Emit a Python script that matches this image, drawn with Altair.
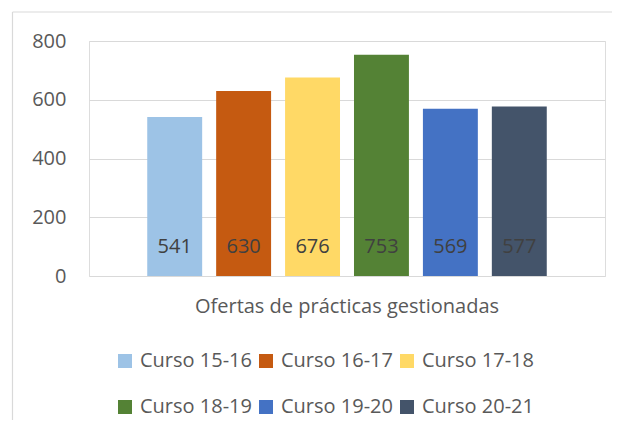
import altair as alt
import pandas as pd

categoria = ["Ofertas de prácticas gestionadas"]
cursos = ["Curso 15-16", "Curso 16-17", "Curso 17-18", "Curso 18-19", "Curso 19-20", "Curso 20-21"]
valores = [541, 630, 676, 753, 569, 577]
colores = ["#9DC3E6", "#C55A11", "#FFD966", "#548235", "#4472C4", "#44546A"]
y_ticks = [0, 200, 400, 600, 800]

df = pd.DataFrame({"cat": categoria * len(cursos), "curso": cursos, "valor": valores})

FONT = "Open Sans"
GREY = "#595959"

x_enc = alt.X("cat:N", scale=alt.Scale(paddingInner=0, paddingOuter=0),
              axis=alt.Axis(title=None, labelFontSize=20, labelColor=GREY, labelFont=FONT,
                            ticks=False, tickSize=0, domain=False, labelPadding=20, labelAngle=0,
                            labelLimit=0))
xo_enc = alt.XOffset("curso:N", sort=cursos, scale=alt.Scale(paddingInner=0.203, paddingOuter=0.845))

base = alt.Chart(df)

frame_src = alt.Data(values=[{}])
frame_top = alt.Chart(frame_src).mark_rule(color="#d9d9d9", strokeWidth=1.2).encode(
    x=alt.value(-76.5), x2=alt.value(523), y=alt.value(-29))
frame_left = alt.Chart(frame_src).mark_rule(color="#d9d9d9", strokeWidth=1.2).encode(
    x=alt.value(-76.5), y=alt.value(-29), y2=alt.value(420))

bars = base.mark_bar().encode(
    x=x_enc,
    xOffset=xo_enc,
    y=alt.Y("valor:Q", scale=alt.Scale(domain=[0, 800], nice=False),
            axis=alt.Axis(title=None, values=y_ticks, labelFontSize=20, labelColor=GREY, labelFont=FONT,
                          ticks=False, tickSize=0, domain=False, labelPadding=23,
                          gridColor="#d9d9d9", gridWidth=1.2)),
    color=alt.Color("curso:N", sort=cursos, scale=alt.Scale(domain=cursos, range=colores),
                    legend=alt.Legend(title=None, orient="none", legendX=26, legendY=310,
                                      columns=3, direction="horizontal", symbolType="square",
                                      symbolSize=196, symbolStrokeWidth=0, symbolOpacity=1,
                                      labelFontSize=20, labelColor=GREY, labelFont=FONT,
                                      labelOffset=5, columnPadding=4, rowPadding=26, padding=0)),
)

labels = base.mark_text(fontSize=20, font=FONT, color="#404040", dy=-29, baseline="middle").encode(
    x=x_enc,
    xOffset=xo_enc,
    y=alt.datum(0),
    text=alt.Text("valor:Q"),
)

chart = alt.layer(frame_top, frame_left, bars, labels).properties(
    width=516, height=235,
    autosize=alt.AutoSizeParams(type="none"),
    padding={"left": 81, "top": 33, "right": 7, "bottom": 144},
).configure_view(stroke=None).configure(font=FONT)

chart.save("out.html", embed_options={"renderer": "svg", "actions": False})
